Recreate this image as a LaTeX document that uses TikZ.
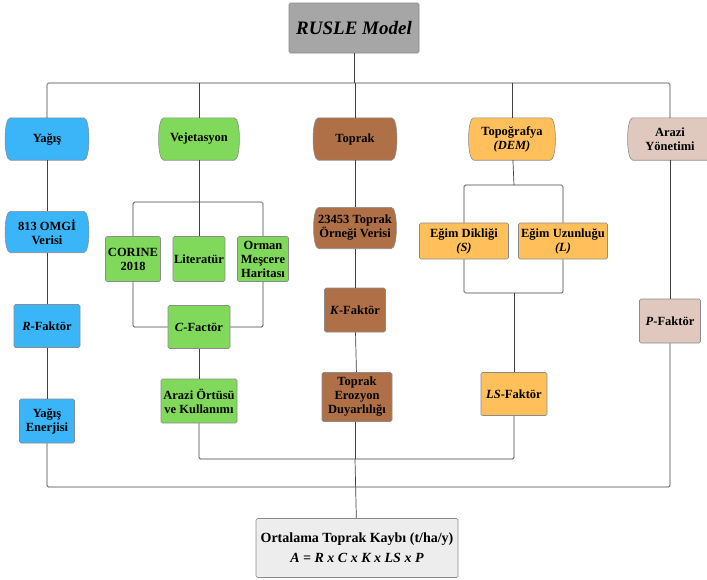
\documentclass[tikz,border=0pt]{standalone}
\usepackage{fontspec}
\setmainfont{Liberation Serif}
\usetikzlibrary{backgrounds}

\definecolor{rainblue}{HTML}{3AB5F7}
\definecolor{vegigreen}{HTML}{80D95B}
\definecolor{soilbrown}{HTML}{B07047}
\definecolor{topoorange}{HTML}{FFBF5A}
\definecolor{landpink}{HTML}{E0C8BE}
\definecolor{modelgray}{HTML}{A6A6A6}
\definecolor{resultgray}{HTML}{EDEDED}

% barrel outline behind a group node
\newcommand{\barrel}[2]{%
  \filldraw[fill=#2, draw=black!45, line width=0.6pt]
    ([xshift=2pt]#1.north west) -- ([xshift=-2pt]#1.north east)
    .. controls ([xshift=5pt]#1.north east) and ([xshift=5pt]#1.south east) .. ([xshift=-2pt]#1.south east)
    -- ([xshift=2pt]#1.south west)
    .. controls ([xshift=-5pt]#1.south west) and ([xshift=-5pt]#1.north west) .. cycle;}

\begin{document}
\begin{tikzpicture}[
    x=1pt, y=-1pt,
    every node/.style={font=\bfseries\fontsize{12.5}{14}\selectfont, align=center, inner sep=1pt},
    factor/.style={draw=black!45, line width=0.6pt, rectangle, rounded corners=1.5pt},
    group/.style={rectangle, minimum height=42pt},
    link/.style={draw=black!75, line width=0.7pt, rounded corners=1.5pt}
]
    \useasboundingbox (0,0) rectangle (707,579);

    % Model
    \node[factor, fill=modelgray, minimum width=130pt, minimum height=50pt,
          font=\bfseries\itshape\fontsize{19}{21}\selectfont] (rusle) at (354,28) {RUSLE Model};

    % Main groups
    \node[group, minimum width=77pt] (yagis) at (47,139) {Yağış};
    \node[group, minimum width=74pt] (vejet) at (199,139) {Vejetasyon};
    \node[group, minimum width=77pt] (toprak) at (355,139) {Toprak};
    \node[group, minimum width=80pt] (topo) at (512,139) {Topoğrafya\\\textit{(DEM)}};
    \node[group, minimum width=78pt] (arazi) at (670,139) {Arazi\\Yönetimi};

    % Yağış
    \node[group, minimum width=77pt, minimum height=41pt] (omgi) at (47,232) {813 OMGİ\\Verisi};
    \node[factor, fill=rainblue, minimum width=66pt, minimum height=43pt] (rfak) at (47,326) {\textit{R}-Faktör};
    \node[factor, fill=rainblue, minimum width=55pt, minimum height=44pt] (enerji) at (47,421) {Yağış\\Enerjisi};

    % Vejetasyon
    \node[factor, fill=vegigreen, minimum width=55pt, minimum height=45pt] (corine) at (133,259) {CORINE\\2018};
    \node[factor, fill=vegigreen, minimum width=51pt, minimum height=45pt] (literatur) at (199,259) {Literatür};
    \node[factor, fill=vegigreen, minimum width=51pt, minimum height=45pt] (orman) at (263,259) {Orman\\Meşcere\\Haritası};
    \node[factor, fill=vegigreen, minimum width=62pt, minimum height=43pt] (cfak) at (199,327) {\textit{C}-Factör};
    \node[factor, fill=vegigreen, minimum width=76pt, minimum height=44pt] (ortu) at (199,401) {Arazi Örtüsü\\ve Kullanımı};

    % Toprak
    \node[group, minimum width=76pt, minimum height=41pt] (ornek) at (355,228) {23453 Toprak\\Örneği Verisi};
    \node[factor, fill=soilbrown, minimum width=61pt, minimum height=44pt] (kfak) at (355,310) {\textit{K}-Faktör};
    \node[factor, fill=soilbrown, minimum width=70pt, minimum height=49pt] (erozyon) at (357,397) {Toprak\\Erozyon\\Duyarlılığı};

    % Topoğrafya
    \node[factor, fill=topoorange, minimum width=89pt, minimum height=36pt] (egims) at (464,241) {Eğim Dikliği\\\textit{(S)}};
    \node[factor, fill=topoorange, minimum width=89pt, minimum height=36pt] (egiml) at (563,241) {Eğim Uzunluğu\\\textit{(L)}};
    \node[factor, fill=topoorange, minimum width=66pt, minimum height=43pt] (lsfak) at (514,394) {\textit{LS}-Faktör};

    % Arazi yönetimi
    \node[factor, fill=landpink, minimum width=61pt, minimum height=44pt] (pfak) at (670,321) {\textit{P}-Faktör};

    % Result
    \node[factor, fill=resultgray, minimum width=202pt, minimum height=59pt,
          font=\bfseries\fontsize{14}{20}\selectfont] (kayip) at (357,548) {Ortalama Toprak Kaybı (t/ha/y)\\\textit{A = R x C x K x LS x P}};

    % Group outlines
    \begin{scope}[on background layer]
        \barrel{yagis}{rainblue}
        \barrel{vejet}{vegigreen}
        \barrel{toprak}{soilbrown}
        \barrel{topo}{topoorange}
        \barrel{arazi}{landpink}
        \barrel{omgi}{rainblue}
        \barrel{ornek}{soilbrown}
    \end{scope}

    % Bus points
    \coordinate (topbus) at (354,83);
    \coordinate (vegbus) at (199,202);
    \coordinate (topobus) at (514,185);
    \coordinate (lsbus) at (514,293);
    \coordinate (innerbus) at (355,459);
    \coordinate (outerbus) at (355,487);

    % Connectors
    \draw[link] (rusle) -- (topbus);
    \draw[link] (yagis.north) |- (topbus) -| (arazi.north);
    \draw[link] (vejet) -- (vejet |- topbus);
    \draw[link] (toprak) -- (toprak |- topbus);
    \draw[link] (topo) -- (topo |- topbus);

    \draw[link] (yagis) -- (omgi);
    \draw[link] (omgi) -- (rfak);
    \draw[link] (rfak) -- (enerji);

    \draw[link] (vejet) -- (vegbus);
    \draw[link] (corine.north) |- (vegbus) -| (orman.north);
    \draw[link] (literatur) -- (vegbus);
    \draw[link] (corine.south) |- (cfak.west);
    \draw[link] (orman.south) |- (cfak.east);
    \draw[link] (cfak) -- (ortu);

    \draw[link] (toprak) -- (ornek);
    \draw[link] (ornek) -- (kfak);
    \draw[link] (kfak) -- (erozyon);

    \draw[link] (topo) -- (topobus);
    \draw[link] (egims.north) |- (topobus) -| (egiml.north);
    \draw[link] (egims.south) |- (lsbus) -| (egiml.south);
    \draw[link] (lsbus) -- (lsfak);

    \draw[link] (arazi) -- (pfak);

    \draw[link] (ortu.south) |- (innerbus) -| (lsfak.south);
    \draw[link] (erozyon.south -| innerbus) -- (innerbus);
    \draw[link] (enerji.south) |- (outerbus) -| (pfak.south);
    \draw[link] (innerbus) -- (kayip);
\end{tikzpicture}
\end{document}
